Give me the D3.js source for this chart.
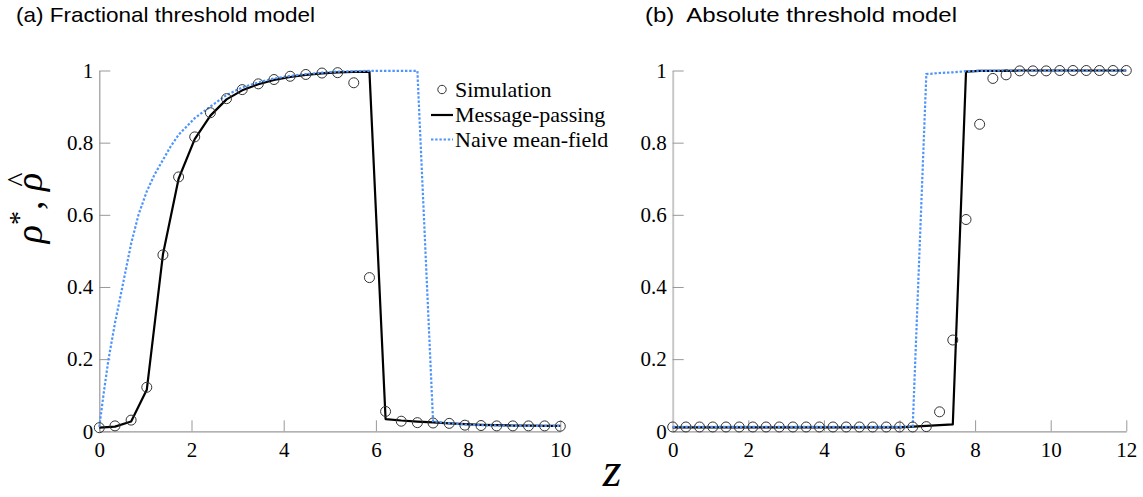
<!DOCTYPE html>
<html>
<head>
<meta charset="utf-8">
<script src="https://cdn.jsdelivr.net/npm/d3@7"></script>
<style>
  html, body { margin: 0; padding: 0; background: #fff; }
  svg { display: block; }
  .serif { font-family: "Liberation Serif", Tinos, "Times New Roman", "DejaVu Serif", "Noto Serif", serif; }
  .sans { font-family: "Liberation Sans", Arimo, Arial, Helvetica, sans-serif; }
</style>
</head>
<body>
<svg id="chart" width="1143" height="497"></svg>
<script>
// ---------- data ----------
const titles = ["(a) Fractional threshold model", "(b)\u00a0 Absolute threshold model"];
const legendLabels = ["Simulation", "Message-passing", "Naive mean-field"];
const yTicks = [0, 0.2, 0.4, 0.6, 0.8, 1];
const yTickLabels = ["0", "0.2", "0.4", "0.6", "0.8", "1"];
const leftXTicks = [0, 2, 4, 6, 8, 10];
const rightXTicks = [0, 2, 4, 6, 8, 10, 12];

// (a) fractional threshold model
const leftZ = [0, 0.34, 0.69, 1.03, 1.38, 1.72, 2.07, 2.41, 2.76, 3.10, 3.45, 3.79, 4.14, 4.48, 4.83,
               5.17, 5.52, 5.86, 6.21, 6.55, 6.90, 7.24, 7.59, 7.93, 8.28, 8.62, 8.97, 9.31, 9.66, 10];
const leftSim = [0.010, 0.015, 0.031, 0.122, 0.489, 0.705, 0.816, 0.883, 0.922, 0.947, 0.963, 0.975, 0.984, 0.989, 0.993,
                 0.994, 0.966, 0.426, 0.055, 0.028, 0.024, 0.023, 0.022, 0.017, 0.016, 0.015, 0.015, 0.015, 0.015, 0.014];
const leftMP = [0.010, 0.013, 0.027, 0.115, 0.490, 0.700, 0.810, 0.875, 0.920, 0.945, 0.962, 0.974, 0.982, 0.988, 0.992,
                0.995, 0.996, 0.997, 0.034, 0.030, 0.027, 0.025, 0.022, 0.020, 0.018, 0.017, 0.016, 0.016, 0.015, 0.015];
const leftNaiveZ = [0, 0.1, 0.2, 0.34, 0.5, 0.69, 0.85, 1.03, 1.2, 1.38, 1.55, 1.72, 2.07, 2.41, 2.76, 3.10, 3.45, 3.79,
                    4.14, 4.48, 4.83, 5.17, 5.52, 5.86, 6.21, 6.55, 6.90, 7.24, 7.59, 7.93, 8.28, 8.62, 8.97, 9.31, 9.66, 10];
const leftNaive = [0.012, 0.11, 0.20, 0.30, 0.40, 0.52, 0.60, 0.665, 0.712, 0.752, 0.79, 0.822, 0.868, 0.90, 0.932, 0.953, 0.967, 0.978,
                   0.985, 0.99, 0.994, 0.997, 0.998, 0.999, 0.999, 0.999, 0.999, 0.028, 0.022, 0.019, 0.017, 0.016, 0.015, 0.015, 0.015, 0.015];

// (b) absolute threshold model
const rightZ = [0, 0.35, 0.71, 1.06, 1.41, 1.76, 2.12, 2.47, 2.82, 3.18, 3.53, 3.88, 4.24, 4.59, 4.94, 5.29, 5.65, 6.00,
                6.35, 6.71, 7.06, 7.41, 7.76, 8.12, 8.47, 8.82, 9.18, 9.53, 9.88, 10.24, 10.59, 10.94, 11.29, 11.65, 12];
const rightSim = [0.012, 0.012, 0.012, 0.012, 0.012, 0.012, 0.012, 0.012, 0.012, 0.012, 0.012, 0.012, 0.012, 0.012, 0.012, 0.012, 0.012, 0.012,
                  0.012, 0.013, 0.054, 0.253, 0.587, 0.851, 0.978, 0.988, 0.999, 0.999, 0.999, 1.0, 1.0, 1.0, 1.0, 1.0, 1.0];
const rightMP = [0.011, 0.011, 0.011, 0.011, 0.011, 0.011, 0.011, 0.011, 0.011, 0.011, 0.011, 0.011, 0.011, 0.011, 0.011, 0.011, 0.011, 0.011,
                 0.013, 0.015, 0.017, 0.019, 0.997, 0.999, 0.999, 0.999, 1.0, 1.0, 1.0, 1.0, 1.0, 1.0, 1.0, 1.0, 1.0];
const rightNaive = [0.012, 0.012, 0.012, 0.012, 0.012, 0.012, 0.012, 0.012, 0.012, 0.012, 0.012, 0.012, 0.012, 0.012, 0.012, 0.012, 0.012, 0.012,
                    0.014, 0.990, 0.993, 0.995, 0.998, 0.999, 0.999, 1.0, 1.0, 1.0, 1.0, 1.0, 1.0, 1.0, 1.0, 1.0, 1.0];

// ---------- drawing ----------
const svg = d3.select("#chart");
const BLUE = "#4d94ff";

const panels = [
  { z: leftZ, sim: leftSim, mp: leftMP, naiveZ: leftNaiveZ, naive: leftNaive, domain: [0, 10], range: [99.3, 560.3], ticks: leftXTicks,
    title: titles[0], titleX: 16, titleLen: 299, yAxisColor: "#999", yAxisWidth: 1.2 },
  { z: rightZ, sim: rightSim, mp: rightMP, naiveZ: rightZ, naive: rightNaive, domain: [0, 12], range: [672.7, 1126.3], ticks: rightXTicks,
    title: titles[1], titleX: 645, titleLen: 312, yAxisColor: "#c8c8c8", yAxisWidth: 2 }
];

const y = d3.scaleLinear().domain([0, 1]).range([431.3, 70.5]);

panels.forEach((p) => {
  const x = d3.scaleLinear().domain(p.domain).range(p.range);
  const g = svg.append("g");

  const xAxis = d3.axisBottom(x).tickValues(p.ticks).tickFormat(d => String(d))
    .tickSizeInner(-11).tickSizeOuter(0).tickPadding(11);
  const gx = g.append("g").attr("transform", `translate(0,${y(0)})`).call(xAxis)
    .attr("font-family", null).attr("font-size", null).attr("class", "serif");
  gx.select(".domain").attr("stroke", "#999").attr("stroke-width", 1.2);
  gx.selectAll(".tick line").attr("stroke", "#999").attr("stroke-width", 1);
  gx.selectAll(".tick text").attr("font-size", 21).attr("fill", "#000");

  const yAxis = d3.axisLeft(y).tickValues(yTicks).tickFormat((d, i) => yTickLabels[i])
    .tickSizeInner(-11).tickSizeOuter(0).tickPadding(6);
  const gy = g.append("g").attr("transform", `translate(${x(0)},0)`).call(yAxis)
    .attr("font-family", null).attr("font-size", null).attr("class", "serif");
  gy.select(".domain").attr("stroke", p.yAxisColor).attr("stroke-width", p.yAxisWidth);
  gy.selectAll(".tick line").attr("stroke", "#999").attr("stroke-width", 1);
  gy.selectAll(".tick text").attr("font-size", 21).attr("fill", "#000");

  const lineMP = d3.line().x((d, i) => x(p.z[i])).y(d => y(d));
  g.append("path").datum(p.mp).attr("d", lineMP)
    .attr("fill", "none").attr("stroke", "#000").attr("stroke-width", 2.2).attr("stroke-linejoin", "round");

  const lineN = d3.line().x((d, i) => x(p.naiveZ[i])).y(d => y(d));
  g.append("path").datum(p.naive).attr("d", lineN)
    .attr("fill", "none").attr("stroke", BLUE).attr("stroke-width", 2.2).attr("stroke-dasharray", "2.4,1.8");

  g.selectAll("circle.sim").data(p.sim).enter().append("circle")
    .attr("class", "sim")
    .attr("cx", (d, i) => x(p.z[i])).attr("cy", d => y(d)).attr("r", 5)
    .attr("fill", "none").attr("stroke", "#333").attr("stroke-width", 1);

  svg.append("text").attr("class", "sans").attr("x", p.titleX).attr("y", 22)
    .attr("font-size", 21).attr("fill", "#000")
    .attr("textLength", p.titleLen).attr("lengthAdjust", "spacingAndGlyphs")
    .text(p.title);
});

// legend
const lg = svg.append("g").attr("class", "serif").attr("font-size", 22);
const legendY = [89.5, 115, 139.5];
lg.append("circle").attr("cx", 442).attr("cy", legendY[0]).attr("r", 4.2)
  .attr("fill", "none").attr("stroke", "#333").attr("stroke-width", 1);
lg.append("line").attr("x1", 431).attr("x2", 453).attr("y1", legendY[1]).attr("y2", legendY[1])
  .attr("stroke", "#000").attr("stroke-width", 2.2);
lg.append("line").attr("x1", 431).attr("x2", 453).attr("y1", legendY[2]).attr("y2", legendY[2])
  .attr("stroke", BLUE).attr("stroke-width", 2.2).attr("stroke-dasharray", "2.4,1.8");
legendLabels.forEach((t, i) => {
  lg.append("text").attr("x", 455).attr("y", legendY[i]).attr("dy", "0.33em").attr("fill", "#000").text(t);
});

// x label
svg.append("text").attr("class", "serif").attr("x", 612).attr("y", 486).attr("text-anchor", "middle")
  .attr("font-style", "italic").attr("font-size", 48).text("z");

// y label, built piece by piece in a rotated group
const yg = svg.append("g").attr("class", "serif").attr("transform", "translate(42,208) rotate(-90)");
const pieces = [
  { t: "\u03c1", size: 38, dy: 0, italic: true },
  { t: "*", size: 28, dy: -14, italic: false },
  { t: ",", size: 38, dy: 0, italic: false },
  { t: "\u00a0", size: 38, dy: 0, italic: false },
  { t: "\u03c1", size: 38, dy: 0, italic: true, hat: true }
];
let cursor = 0;
const nodes = pieces.map(pc => {
  const tx = yg.append("text").attr("x", cursor).attr("y", pc.dy)
    .attr("font-size", pc.size).attr("font-style", pc.italic ? "italic" : "normal").text(pc.t);
  const w = tx.node().getComputedTextLength();
  const n = { tx, x: cursor, w, pc };
  cursor += w + (pc.t === "*" ? 1 : 0);
  return n;
});
const total = cursor;
nodes.forEach(n => {
  n.tx.attr("x", n.x - total / 2);
  if (n.pc.hat) {
    const hat = yg.append("text").attr("x", n.x - total / 2 + n.w * 0.62).attr("y", 0)
      .attr("text-anchor", "middle").attr("font-size", 30).attr("fill", "#000").text("\u005e");
    const bb = hat.node().getBBox();
    // place the caret just above the x-height of the rho (bowl top about 0.46em)
    const targetBottom = -38 * 0.46 - 3;
    const glyphBottom = bb.y + bb.height * 0.62;
    hat.attr("y", targetBottom - glyphBottom);
  }
});
</script>
</body>
</html>
